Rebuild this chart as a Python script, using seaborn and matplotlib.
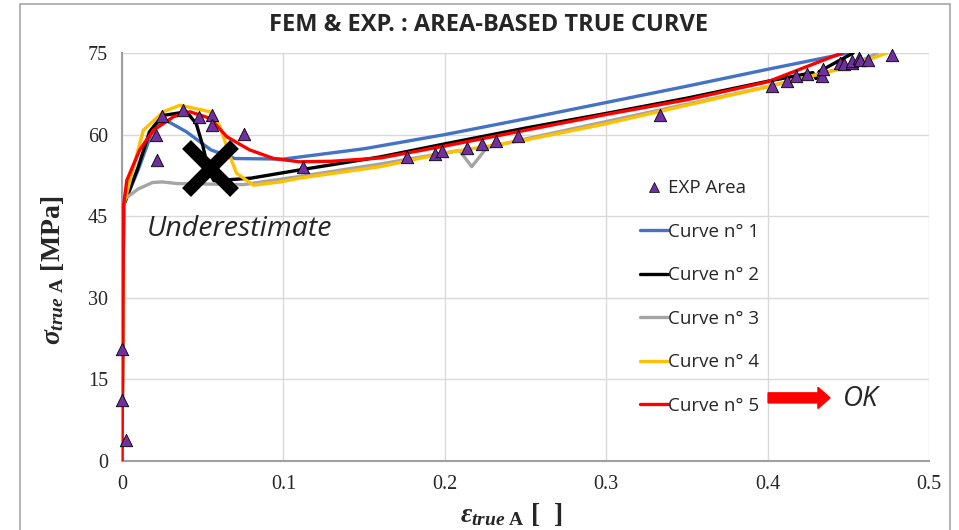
import matplotlib
matplotlib.use("Agg")
import matplotlib.pyplot as plt
import numpy as np
import pandas as pd
import seaborn as sns
from matplotlib.lines import Line2D
from matplotlib.patches import Rectangle

# experimental points (area based true strain / true stress)
exp_strain = [0.0, 0.0, 0.0025, 0.0209, 0.0215, 0.0246, 0.0376, 0.048, 0.0556,
              0.056, 0.0758, 0.112, 0.1768, 0.1939, 0.1985, 0.2139, 0.2229,
              0.2317, 0.2452, 0.3333, 0.4025, 0.4122, 0.4174, 0.4246, 0.434,
              0.4345, 0.4449, 0.4473, 0.452, 0.4525, 0.4568, 0.457, 0.462, 0.4768]
exp_stress = [20.6, 11.2, 3.9, 59.9, 55.3, 63.5, 64.6, 63.2, 63.6,
              61.8, 60.1, 54.0, 55.9, 56.4, 56.9, 57.6, 58.2,
              58.8, 59.7, 63.6, 68.9, 69.9, 70.8, 71.2, 70.8,
              72.0, 73.1, 72.9, 73.1, 73.6, 74.0, 73.7, 73.7, 74.6]

# FEM curves
c1_strain = [0.0, 0.001, 0.01, 0.018, 0.025, 0.04, 0.055, 0.07, 0.1, 0.15, 0.2,
             0.25, 0.3, 0.35, 0.4, 0.45]
c1_stress = [0.0, 47.0, 53.5, 60.0, 63.0, 60.5, 57.2, 55.6, 55.5, 57.4, 60.0,
             62.9, 65.9, 68.9, 72.0, 75.0]

c2_strain = [0.0, 0.001, 0.01, 0.017, 0.025, 0.04, 0.046, 0.05, 0.054, 0.057,
             0.08, 0.11, 0.16, 0.2, 0.25, 0.3, 0.35, 0.4, 0.428, 0.43, 0.432, 0.453]
c2_stress = [0.0, 47.0, 54.0, 60.5, 63.5, 64.2, 62.0, 58.0, 53.0, 51.5,
             52.0, 53.5, 55.9, 58.3, 61.2, 63.9, 66.7, 69.8, 71.4, 70.3, 71.6, 75.0]

c3_strain = [0.0, 0.001, 0.01, 0.019, 0.025, 0.034, 0.075, 0.11, 0.16, 0.209,
             0.2167, 0.226, 0.25, 0.3, 0.35, 0.4, 0.45, 0.468]
c3_stress = [0.0, 48.0, 50.0, 51.2, 51.3, 51.0, 50.8, 52.3, 54.6, 57.1,
             54.1, 57.6, 59.2, 62.4, 65.6, 68.8, 72.5, 75.0]

c4_strain = [0.0, 0.001, 0.008, 0.0132, 0.0256, 0.036, 0.0545, 0.0607, 0.067,
             0.071, 0.0814, 0.098, 0.11, 0.16, 0.2, 0.25, 0.3, 0.35, 0.4, 0.45, 0.474]
c4_stress = [0.0, 47.0, 55.0, 60.8, 64.2, 65.4, 64.2, 61.5, 55.9,
             52.9, 50.7, 51.3, 52.0, 54.1, 56.6, 59.0, 62.0, 65.4, 68.8, 72.4, 75.0]

c5_strain = [0.0, 0.001, 0.003, 0.011, 0.0194, 0.032, 0.042, 0.0545, 0.065,
             0.079, 0.094, 0.11, 0.13, 0.16, 0.2, 0.25, 0.3, 0.35, 0.4, 0.446]
c5_stress = [0.0, 47.0, 51.6, 57.2, 60.8, 63.3, 64.2, 63.0, 59.6,
             57.2, 55.6, 55.0, 55.1, 55.7, 57.9, 60.8, 63.7, 66.4, 69.7, 75.0]

curve_labels = ["Curve n° 1", "Curve n° 2", "Curve n° 3", "Curve n° 4", "Curve n° 5"]
curve_colors = ["#4472C4", "#000000", "#A5A5A5", "#FFC000", "#FF0000"]
curves = [(c1_strain, c1_stress), (c2_strain, c2_stress), (c3_strain, c3_stress),
          (c4_strain, c4_stress), (c5_strain, c5_stress)]

x_ticks = [0, 0.1, 0.2, 0.3, 0.4, 0.5]
x_ticklabels = ["0", "0.1", "0.2", "0.3", "0.4", "0.5"]
y_ticks = [0, 15, 30, 45, 60, 75]

sns.set_style("white")
plt.rcParams["font.family"] = ["Open Sans", "DejaVu Sans"]
plt.rcParams["mathtext.fontset"] = "custom"
plt.rcParams["mathtext.rm"] = "Liberation Serif:bold"
plt.rcParams["mathtext.it"] = "Liberation Serif:italic:bold"
plt.rcParams["mathtext.bf"] = "Liberation Serif:bold"

fig = plt.figure(figsize=(9.59, 5.30), dpi=100)
ax = fig.add_axes([122 / 959, 1 - 461 / 530, (929 - 122) / 959, (461 - 53) / 530])

for (xs, ys), lab, col in zip(curves, curve_labels, curve_colors):
    df = pd.DataFrame({"strain": xs, "stress": ys})
    sns.lineplot(data=df, x="strain", y="stress", color=col, lw=2.4, sort=False,
                 estimator=None, ax=ax, zorder=3)

exp_df = pd.DataFrame({"strain": exp_strain, "stress": exp_stress})
sns.scatterplot(data=exp_df, x="strain", y="stress", marker="^", s=80,
                color="#7030A0", edgecolor="black", linewidth=0.6, ax=ax,
                zorder=5, clip_on=False)

ax.set_xlim(0, 0.5)
ax.set_ylim(0, 75)
ax.set_xticks(x_ticks)
ax.set_xticklabels(x_ticklabels)
ax.set_yticks(y_ticks)
ax.grid(True, color="#D9D9D9", lw=1)
ax.set_axisbelow(True)
for s in ["top", "right"]:
    ax.spines[s].set_visible(False)
ax.spines["left"].set_color("#A0A0A0")
ax.spines["bottom"].set_color("#A0A0A0")
ax.spines["left"].set_linewidth(1.5)
ax.spines["bottom"].set_linewidth(1.5)
ax.tick_params(length=0, pad=10, labelsize=14.5)
for t in ax.get_xticklabels() + ax.get_yticklabels():
    t.set_fontfamily("Liberation Serif")
ax.set_xlabel("")
ax.set_ylabel("")

# annotations
ax.plot([0.0545], [53.9], marker="x", markersize=34, mew=9, color="black", zorder=6)
ax.text(0.0155, 42.6, "Underestimate", fontsize=20.5, style="italic", va="center",
        ha="left")
ax.arrow(0.4003, 11.6, 0.0384, 0, width=1.85, head_width=3.9, head_length=0.0075,
         length_includes_head=True, color="#FF0000", zorder=6, clip_on=False)
ax.text(0.4465, 11.4, "OK", fontsize=20, style="italic", va="center", ha="left")

handles = [Line2D([], [], ls="", marker="^", markersize=7, color="#7030A0",
                  markeredgecolor="black", markeredgewidth=0.5)]
handles += [Line2D([], [], color=c, lw=2.4) for c in curve_colors]
ax.legend(handles, ["EXP Area"] + curve_labels, loc="upper left",
          bbox_to_anchor=(631 / 959, 1 - 170 / 530), bbox_transform=fig.transFigure,
          frameon=False, fontsize=13.5, handlelength=1.45, handletextpad=0.05,
          labelspacing=1.36, borderpad=0)

fig.text(489 / 959, 1 - 25 / 530, "FEM & EXP. : AREA-BASED TRUE CURVE",
         ha="center", va="center", fontsize=17, fontweight="bold")
fig.text(52 / 959, 1 - 270 / 530, r"$\sigma_{true\ \mathrm{A}}$ [MPa]", rotation=90,
         ha="center", va="center", fontsize=20, fontfamily="Liberation Serif",
         fontweight="bold")
fig.text(511 / 959, 1 - 515 / 530, r"$\varepsilon_{true\ \mathrm{A}}$ [  ]",
         ha="center", va="center", fontsize=20, fontfamily="Liberation Serif",
         fontweight="bold")

# chart area border
fig.patches.append(Rectangle((20 / 959, -0.01), (950 - 20) / 959, 1 - 4 / 530 + 0.01,
                             transform=fig.transFigure, fill=False,
                             edgecolor="#A6A6A6", lw=1.2))

fig.savefig("out.png", dpi=100)
